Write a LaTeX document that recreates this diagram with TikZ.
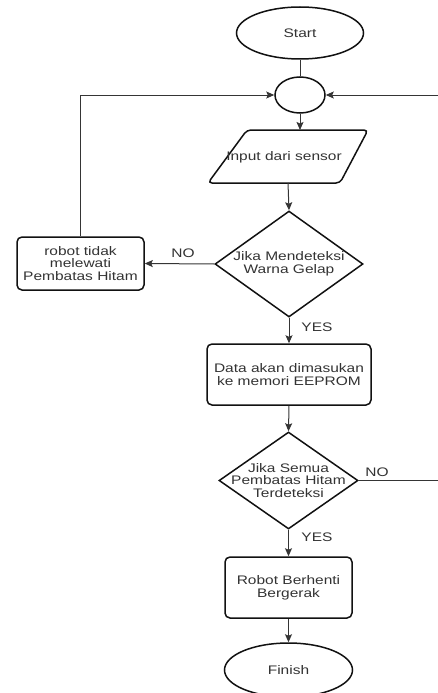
\documentclass[tikz,border=0pt]{standalone}
\usepackage{fontspec}
\setmainfont[FakeStretch=1.25]{Liberation Sans}
\usetikzlibrary{shapes.geometric,arrows.meta}
\definecolor{txt}{HTML}{333333}
\definecolor{ln}{HTML}{111111}
\begin{document}
\begin{tikzpicture}[x=1pt,y=-1pt,
  every node/.style={font=\fontsize{12.4}{12.8}\selectfont, text=txt},
  shp/.style={draw=ln, line width=1.5pt},
  term/.style={shp, ellipse, inner sep=0pt},
  procbox/.style={shp, rectangle, rounded corners=5pt, align=center, inner sep=0pt},
  decision/.style={shp, diamond, inner sep=0pt},
  conn/.style={draw=ln!85, line width=1pt},
  arr/.style={conn, -{Stealth[length=8pt,width=7pt,inset=1.5pt]}},
  lbl/.style={inner sep=0pt}
]
\useasboundingbox (0,0) rectangle (438,693);
\clip (0,0) rectangle (438,693);

% nodes
\node[term, minimum width=127pt, minimum height=52pt] (start) at (300,33) {Start};
\node[term, minimum width=50pt, minimum height=36pt] (jn) at (300,95) {};

\draw[shp, rounded corners=4pt] (247,130) -- (368,130) -- (340,183) -- (208,183) -- cycle;
\coordinate (inTop) at (300,130);
\coordinate (inBot) at (288,183);
\node[lbl] (inp) at (284,157) {Input dari sensor};

\node[decision, minimum width=148pt, minimum height=106pt] (d1) at (289,264) {};
\node[lbl, align=center] (d1t) at (d1) {Jika Mendeteksi\\Warna Gelap};

\node[procbox, minimum width=127pt, minimum height=53pt] (rb) at (80.5,263.5) {robot tidak\\melewati\\Pembatas Hitam};

\node[procbox, minimum width=164pt, minimum height=61pt] (data) at (289,374.5) {Data akan dimasukan\\ke memori EEPROM};

\node[decision, minimum width=139pt, minimum height=97pt] (d2) at (288.5,480.5) {};
\node[lbl, align=center] (d2t) at (d2) {Jika Semua\\Pembatas Hitam\\Terdeteksi};

\node[procbox, minimum width=127pt, minimum height=61pt] (stop) at (288.5,587.5) {Robot Berhenti\\Bergerak};

\node[term, minimum width=128pt, minimum height=54pt] (fin) at (288.5,670) {Finish};

\coordinate (rc) at (450,480.5);

% connectors
\draw[conn] (start.south) -- (jn.north);
\draw[arr] (jn.south) -- (inTop);
\draw[arr] (inBot) -- (d1.north);
\draw[arr] (d1.west) -- (rb.east);
\draw[arr] (rb.north) |- (jn.west);
\draw[arr] (d1.south) -- (data.north);
\draw[arr] (data.south) -- (d2.north);
\draw[arr] (d2.south) -- (stop.north);
\draw[arr] (stop.south) -- (fin.north);
\draw[conn] (d2.east) -- (rc);
\draw[arr] (rc) |- (jn.east);

% labels
\node[lbl] (no1) at (183,253) {NO};
\node[lbl] (yes1) at (317,327) {YES};
\node[lbl] (no2) at (377,472) {NO};
\node[lbl] (yes2) at (317,537) {YES};
\end{tikzpicture}
\end{document}
